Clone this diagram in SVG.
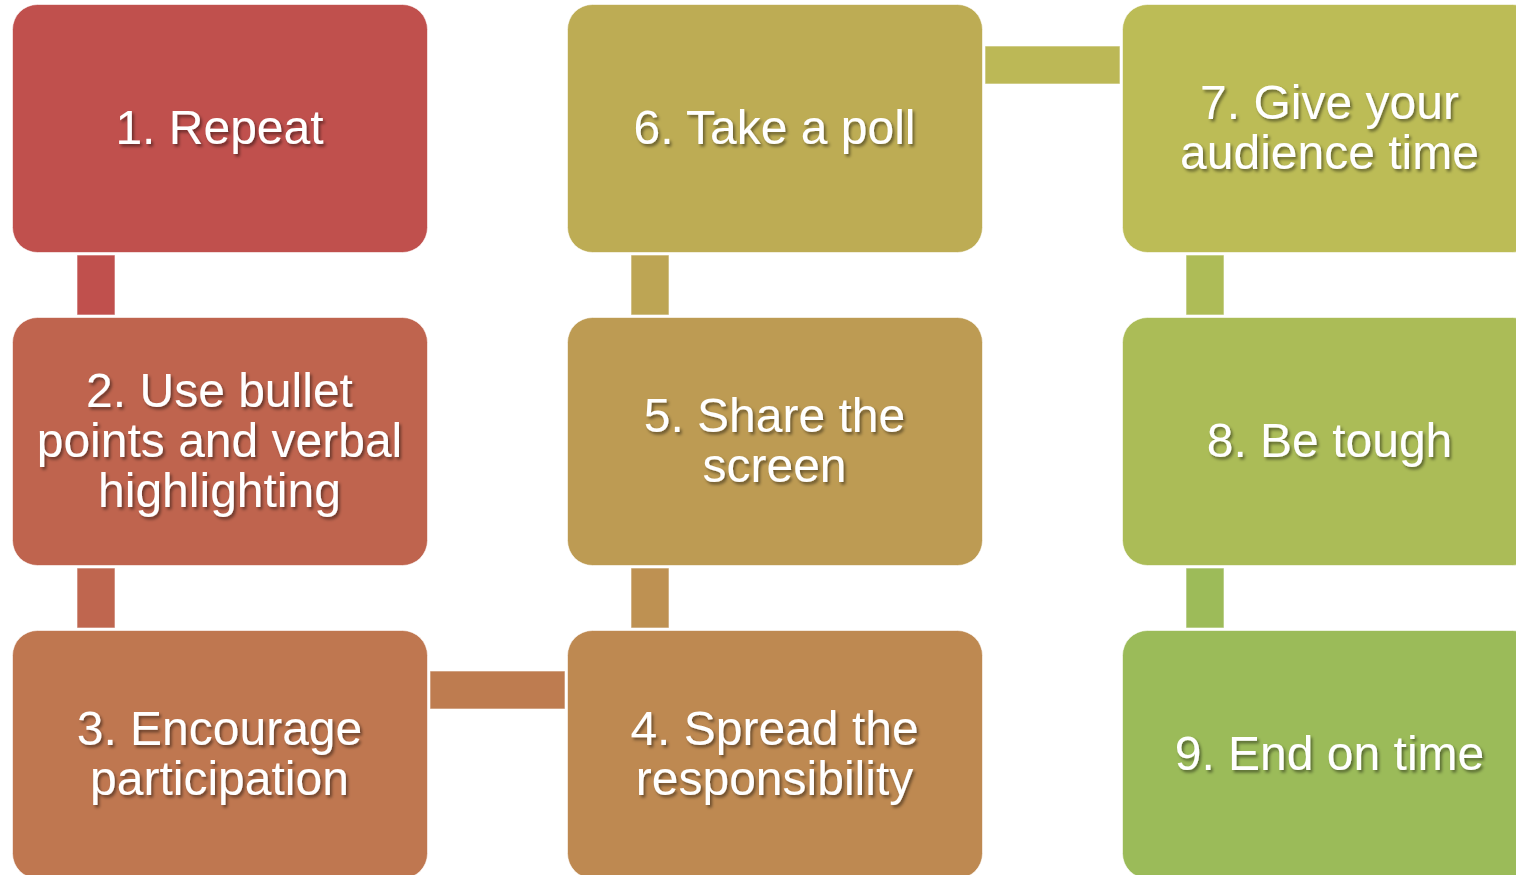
<svg xmlns="http://www.w3.org/2000/svg" width="1516" height="875" viewBox="0 0 1516 875">
<defs>
<filter id="ts" x="-10%" y="-30%" width="120%" height="160%">
<feDropShadow dx="2" dy="2.5" stdDeviation="1.5" flood-color="#000" flood-opacity="0.45"/>
</filter>
<style>
.box{stroke:#ffffff;stroke-opacity:0.6;stroke-width:1}
.con{stroke:#ffffff;stroke-opacity:0.6;stroke-width:1}
.lbl{font-family:"Liberation Sans",Arial,sans-serif;font-size:48px;fill:#ffffff;text-anchor:middle;filter:url(#ts)}
</style>
</defs>
<rect width="1516" height="875" fill="#ffffff"/>
<g id="connectors">
<rect class="con" x="77" y="255" width="38" height="60" fill="#C0504D"/>
<rect class="con" x="77" y="568" width="38" height="60" fill="#BF664F"/>
<rect class="con" x="430" y="671" width="135" height="38" fill="#BE7C50"/>
<rect class="con" x="631" y="568" width="38" height="60" fill="#BE9152"/>
<rect class="con" x="631" y="255" width="38" height="60" fill="#BDA554"/>
<rect class="con" x="985" y="46" width="135" height="38" fill="#BCB856"/>
<rect class="con" x="1186" y="255" width="38" height="60" fill="#AEBC57"/>
<rect class="con" x="1186" y="568" width="38" height="60" fill="#9DBB59"/>
</g>
<g id="n1">
<rect class="box" x="12.5" y="4.5" width="415" height="248" rx="25" fill="#C0504D"/>
<text class="lbl" x="219.5" y="144">1. Repeat</text>
</g>
<g id="n2">
<rect class="box" x="12.5" y="317.5" width="415" height="248" rx="25" fill="#BF644E"/>
<text class="lbl" x="219.5" y="407">2. Use bullet</text>
<text class="lbl" x="219.5" y="457">points and verbal</text>
<text class="lbl" x="219.5" y="507">highlighting</text>
</g>
<g id="n3">
<rect class="box" x="12.5" y="630.5" width="415" height="248" rx="25" fill="#BF7750"/>
<text class="lbl" x="219.5" y="745">3. Encourage</text>
<text class="lbl" x="219.5" y="795">participation</text>
</g>
<g id="n4">
<rect class="box" x="567.5" y="630.5" width="415" height="248" rx="25" fill="#BE8951"/>
<text class="lbl" x="774.5" y="745">4. Spread the</text>
<text class="lbl" x="774.5" y="795">responsibility</text>
</g>
<g id="n5">
<rect class="box" x="567.5" y="317.5" width="415" height="248" rx="25" fill="#BD9B53"/>
<text class="lbl" x="774.5" y="432">5. Share the</text>
<text class="lbl" x="774.5" y="482">screen</text>
</g>
<g id="n6">
<rect class="box" x="567.5" y="4.5" width="415" height="248" rx="25" fill="#BDAC54"/>
<text class="lbl" x="774.5" y="144">6. Take a poll</text>
</g>
<g id="n7">
<rect class="box" x="1122.5" y="4.5" width="415" height="248" rx="25" fill="#BCBC56"/>
<text class="lbl" x="1329.5" y="119">7. Give your</text>
<text class="lbl" x="1329.5" y="169">audience time</text>
</g>
<g id="n8">
<rect class="box" x="1122.5" y="317.5" width="415" height="248" rx="25" fill="#ABBC57"/>
<text class="lbl" x="1329.5" y="457">8. Be tough</text>
</g>
<g id="n9">
<rect class="box" x="1122.5" y="630.5" width="415" height="248" rx="25" fill="#9BBB59"/>
<text class="lbl" x="1329.5" y="770">9. End on time</text>
</g>
</svg>
